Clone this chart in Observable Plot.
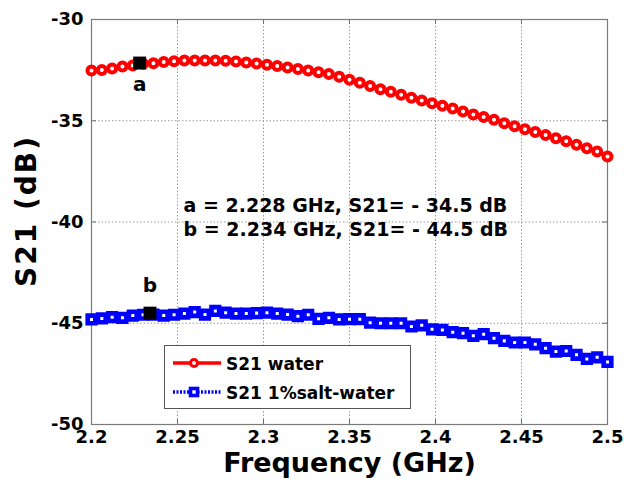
<!DOCTYPE html>
<html>
<head>
<meta charset="utf-8">
<script src="https://cdn.jsdelivr.net/npm/d3@7"></script>
<script src="https://cdn.jsdelivr.net/npm/@observablehq/plot@0.6"></script>
<style>
  html, body { margin: 0; padding: 0; background: #fff; }
  #chart { position: relative; width: 624px; height: 493px; }
  #legend { position: absolute; left: 164px; top: 345px; }
</style>
</head>
<body>
<div id="chart"></div>
<script>
// Swept frequency points (GHz)
const frequency = [
  2.200, 2.206, 2.212, 2.218, 2.224, 2.230, 2.236, 2.242, 2.248, 2.254,
  2.260, 2.266, 2.272, 2.278, 2.284, 2.290, 2.296, 2.302, 2.308, 2.314,
  2.320, 2.326, 2.332, 2.338, 2.344, 2.350, 2.356, 2.362, 2.368, 2.374,
  2.380, 2.386, 2.392, 2.398, 2.404, 2.410, 2.416, 2.422, 2.428, 2.434,
  2.440, 2.446, 2.452, 2.458, 2.464, 2.470, 2.476, 2.482, 2.488, 2.494,
  2.500
];

// S21 (dB), water
const s21Water = [
  -32.52, -32.49, -32.42, -32.32, -32.27, -32.19, -32.16, -32.10, -32.06, -32.03,
  -32.02, -32.02, -32.02, -32.04, -32.07, -32.12, -32.17, -32.24, -32.30, -32.37,
  -32.44, -32.52, -32.60, -32.69, -32.83, -32.97, -33.12, -33.29, -33.44, -33.57,
  -33.72, -33.87, -34.00, -34.13, -34.26, -34.40, -34.54, -34.69, -34.82, -34.95,
  -35.12, -35.27, -35.42, -35.55, -35.70, -35.86, -36.01, -36.19, -36.36, -36.52,
  -36.77
];

// S21 (dB), 1% salt-water
const s21Salt = [
  -44.81, -44.76, -44.70, -44.73, -44.62, -44.58, -44.57, -44.62, -44.58, -44.52,
  -44.45, -44.57, -44.39, -44.48, -44.52, -44.52, -44.50, -44.48, -44.52, -44.57,
  -44.65, -44.58, -44.78, -44.73, -44.81, -44.80, -44.80, -44.97, -45.00, -45.00,
  -45.00, -45.16, -45.10, -45.30, -45.33, -45.44, -45.49, -45.62, -45.54, -45.74,
  -45.87, -45.95, -45.95, -46.04, -46.23, -46.40, -46.37, -46.56, -46.76, -46.68,
  -46.91
];

const seriesNames = ["S21 water", "S21 1%salt-water"];
const seriesColors = ["red", "blue"];

// Marked points a and b
const pointNames = ["a", "b"];
const pointFreq = [2.228, 2.234];
const pointS21 = [-32.15, -44.5];

// Text note placed inside the axes
const noteLines = ["a = 2.228 GHz, S21= - 34.5 dB", "b = 2.234 GHz, S21= - 44.5 dB"];
const noteFreq = [2.2535, 2.2535];
const noteS21 = [-39.21, -40.37];

const xTicks = [2.2, 2.25, 2.3, 2.35, 2.4, 2.45, 2.5];
const yTicks = [-50, -45, -40, -35, -30];

const water = frequency.map((f, i) => ({f, s: s21Water[i]}));
const salt = frequency.map((f, i) => ({f, s: s21Salt[i]}));
const points = pointNames.map((name, i) => ({name, f: pointFreq[i], s: pointS21[i]}));
const notes = noteLines.map((text, i) => ({text, f: noteFreq[i], s: noteS21[i]}));

const FONT = "'DejaVu Sans', 'Liberation Sans', sans-serif";
const grid = {stroke: "#9a9a9a", strokeOpacity: 1, strokeWidth: 1, strokeDasharray: "1.5,2"};
const tick = {stroke: "#6e6e6e", strokeWidth: 1};

const chart = Plot.plot({
  width: 624,
  height: 493,
  marginLeft: 91,
  marginRight: 17,
  marginTop: 19,
  marginBottom: 69,
  style: {fontFamily: FONT, fontWeight: "bold", fontSize: "18px", color: "#000", background: "#fff"},
  x: {domain: [2.2, 2.5]},
  y: {domain: [-50, -30]},
  marks: [
    Plot.gridX(xTicks, grid),
    Plot.gridY(yTicks, grid),
    // inward ticks on all four sides
    Plot.ruleX(xTicks, {...tick, insetTop: 400}),
    Plot.ruleX(xTicks, {...tick, insetBottom: 400}),
    Plot.ruleY(yTicks, {...tick, insetRight: 511}),
    Plot.ruleY(yTicks, {...tick, insetLeft: 511}),
    Plot.frame({stroke: "#7a7a7a", strokeWidth: 1.2}),
    Plot.axisX(xTicks, {tickSize: 0, tickPadding: 6, label: null, tickFormat: d => String(d)}),
    Plot.axisY(yTicks, {tickSize: 0, tickPadding: 8, label: null, tickFormat: d => String(d)}),
    // water: solid red line with circle markers
    Plot.line(water, {x: "f", y: "s", stroke: seriesColors[0], strokeWidth: 3}),
    Plot.dot(water, {x: "f", y: "s", r: 4, stroke: seriesColors[0], strokeWidth: 4, fill: "white"}),
    // salt water: dotted blue line with square markers
    Plot.line(salt, {x: "f", y: "s", stroke: seriesColors[1], strokeWidth: 3, strokeDasharray: "2,1.5"}),
    Plot.dot(salt, {x: "f", y: "s", symbol: "square", r: 4.3, stroke: seriesColors[1], strokeWidth: 4.6, fill: "white"}),
    // marked points
    Plot.dot(points, {x: "f", y: "s", symbol: "square", r: 7.3, fill: "black"}),
    Plot.text(points.slice(0, 1), {x: "f", y: "s", text: "name", dy: 22, fontSize: 20}),
    Plot.text(points.slice(1, 2), {x: "f", y: "s", text: "name", dy: -28, fontSize: 20}),
    Plot.text(notes, {x: "f", y: "s", text: "text", textAnchor: "start", fontSize: 19}),
    // axis titles
    Plot.text(["Frequency (GHz)"], {frameAnchor: "bottom", textAnchor: "middle", dy: 47, fontSize: 27}),
    Plot.text(["S21 (dB)"], {frameAnchor: "left", textAnchor: "middle", rotate: -90, dx: -64, dy: -11, fontSize: 28})
  ]
});

// a little extra tracking on the vertical title
d3.select(chart).selectAll("text")
  .filter(function() { return this.textContent === "S21 (dB)"; })
  .attr("letter-spacing", "2px");

const root = document.getElementById("chart");
root.appendChild(chart);

// Legend box drawn over the lower part of the axes
const leg = d3.select(root).append("svg")
  .attr("id", "legend")
  .attr("width", 248)
  .attr("height", 65)
  .style("font-family", FONT)
  .style("font-weight", "bold");

leg.append("rect")
  .attr("x", 0.5).attr("y", 0.5)
  .attr("width", 246).attr("height", 63)
  .attr("fill", "white").attr("stroke", "#555").attr("stroke-width", 1);

seriesNames.forEach((name, i) => {
  const cy = 18 + i * 29;
  const color = seriesColors[i];
  const row = leg.append("g");
  row.append("line")
    .attr("x1", 9).attr("x2", 57).attr("y1", cy).attr("y2", cy)
    .attr("stroke", color).attr("stroke-width", 3.5)
    .attr("stroke-dasharray", i === 1 ? "2,1.5" : null);
  if (i === 0) {
    row.append("circle").attr("cx", 30).attr("cy", cy).attr("r", 3.5)
      .attr("fill", "white").attr("stroke", color).attr("stroke-width", 3.2);
  } else {
    row.append("rect").attr("x", 26.5).attr("y", cy - 3.5).attr("width", 7).attr("height", 7)
      .attr("fill", "white").attr("stroke", color).attr("stroke-width", 3.6);
  }
  row.append("text")
    .attr("x", 62).attr("y", cy + 6.5)
    .attr("font-size", 17)
    .attr("fill", "black")
    .text(name);
});
</script>
</body>
</html>
